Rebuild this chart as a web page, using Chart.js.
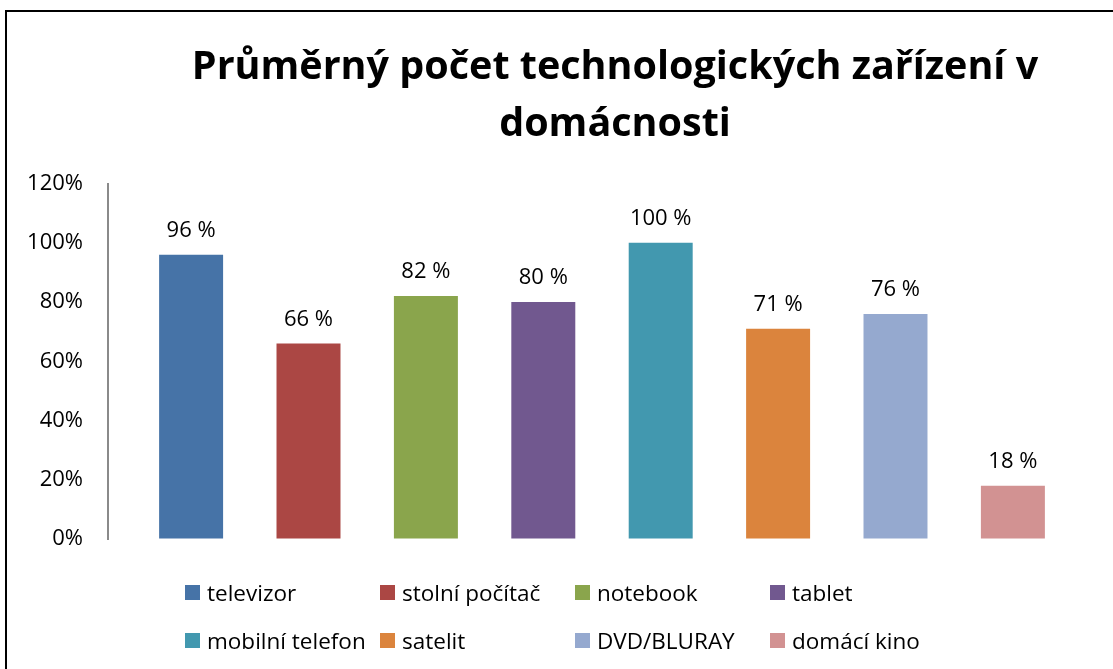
<!DOCTYPE html>
<html>
<head>
<meta charset="utf-8">
<script src="https://cdn.jsdelivr.net/npm/chart.js@4"></script>
<style>
  body { margin: 0; background: #fff; overflow: hidden; width: 1113px; height: 669px; }
  #frame { position: absolute; left: 5px; top: 10px; width: 1300px; height: 800px;
           border: 2px solid #000; box-shadow: 1px 1px 1px #999; }
  #wrap { position: absolute; left: 0; top: 0; width: 1230px; height: 669px; }
  #legend { position: absolute; left: 185px; top: 568px; display: grid;
            grid-template-columns: 195px 195px 195px 195px; row-gap: 0;
            font-family: "Open Sans", sans-serif; font-size: 22.5px; color: #000; }
  #legend div { height: 48px; display: flex; align-items: center; white-space: nowrap; }
  #legend span.box { display: inline-block; width: 15px; height: 15px; margin-right: 7px; }
</style>
</head>
<body>
<div id="frame"></div>
<div id="wrap"><canvas id="myChart" width="1230" height="669"></canvas></div>
<div id="legend"></div>
<script>
// data
var devices = ["televizor", "stolní počítač", "notebook", "tablet",
               "mobilní telefon", "satelit", "DVD/BLURAY", "domácí kino"];
var shares = [96, 66, 82, 80, 100, 71, 76, 18];
var colors = ["#4673A7", "#AB4744", "#8AA54C", "#71588F",
              "#4298AF", "#DB843D", "#95A9CF", "#D29292"];
var yTicks = [0, 20, 40, 60, 80, 100, 120];

var datasets = devices.map(function(name, i) {
  return {
    label: name,
    data: [shares[i]],
    backgroundColor: colors[i],
    categoryPercentage: 0.9506,
    barPercentage: 0.545
  };
});

// value labels above bars
var barLabels = {
  id: "barLabels",
  afterDatasetsDraw: function(chart) {
    var ctx = chart.ctx;
    ctx.save();
    ctx.font = "22px 'Open Sans'";
    ctx.fillStyle = "#000";
    ctx.textAlign = "center";
    ctx.textBaseline = "alphabetic";
    chart.data.datasets.forEach(function(ds, i) {
      var bar = chart.getDatasetMeta(i).data[0];
      ctx.fillText(ds.data[0] + " %", bar.x, bar.y - 18);
    });
    ctx.restore();
  }
};

new Chart(document.getElementById("myChart").getContext("2d"), {
  type: "bar",
  data: { labels: [""], datasets: datasets },
  plugins: [barLabels],
  options: {
    responsive: false,
    animation: false,
    layout: { padding: { left: 0, right: 0, top: 0, bottom: 130 } },
    plugins: {
      legend: { display: false },
      tooltip: { enabled: false },
      title: {
        display: true,
        text: ["Průměrný počet technologických zařízení v", "domácnosti"],
        color: "#000",
        font: { family: "'Open Sans'", size: 39.5, weight: "bold", lineHeight: 1.45 },
        padding: { top: 39, bottom: 30 }
      }
    },
    scales: {
      x: { display: false },
      y: {
        min: 0,
        max: 120,
        afterBuildTicks: function(scale) {
          scale.ticks = yTicks.map(function(v) { return { value: v }; });
        },
        afterFit: function(scale) { scale.width = 108; },
        grid: { display: true, drawOnChartArea: false, drawTicks: false },
        border: { display: true, color: "#8a8a8a", width: 2 },
        ticks: {
          padding: 25,
          color: "#000",
          font: { family: "'Open Sans'", size: 22 },
          callback: function(v) { return v + "%"; }
        }
      },
      // empty space on the right of the plot
      yRight: {
        position: "right",
        min: 0,
        max: 120,
        afterFit: function(scale) { scale.width = 134; },
        grid: { display: false },
        border: { display: false },
        ticks: { display: false }
      }
    }
  }
});

// legend in fixed columns
var legend = document.getElementById("legend");
devices.forEach(function(name, i) {
  var item = document.createElement("div");
  item.innerHTML = '<span class="box" style="background:' + colors[i] + '"></span>' + name;
  legend.appendChild(item);
});
</script>
</body>
</html>
